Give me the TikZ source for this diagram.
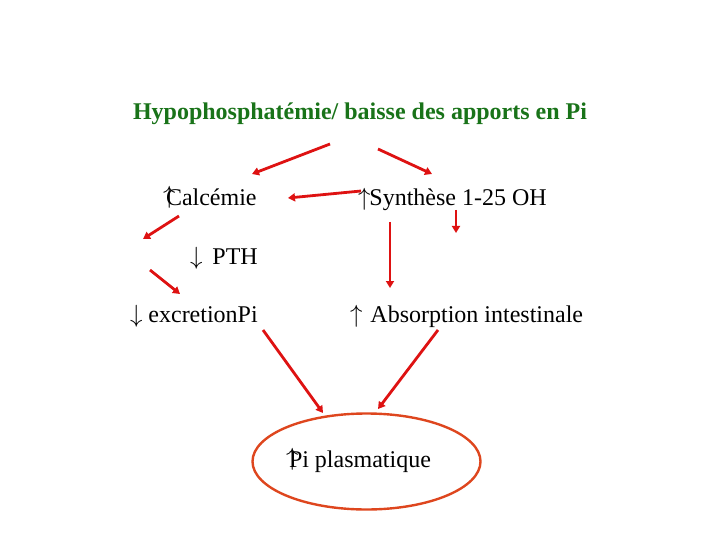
\documentclass[tikz,border=0pt]{standalone}
\usepackage{fontspec}
\setmainfont{Liberation Serif}
\usetikzlibrary{
  arrows.meta,
  shapes.geometric
}
\definecolor{titlegreen}{RGB}{25,115,25}
\definecolor{arrowred}{RGB}{222,18,18}
\definecolor{ringred}{RGB}{222,70,30}
\newcommand{\up}{$\uparrow$}
\newcommand{\down}{$\downarrow$}
\tikzset{
  txt/.style = {anchor=base west, inner sep=0pt, outer sep=0pt,
      font=\fontsize{24}{28}\selectfont},
  ttl/.style = {txt, font=\fontsize{24}{28}\selectfont\bfseries,
      text=titlegreen},
  link/.style = {arrowred, line width=2.8pt,
      -{Triangle[length=7pt, width=8pt]}},
  ring/.style = {ellipse, draw=ringred, line width=2.4pt,
      minimum width=#1, inner sep=0pt},
  ring/.default = 228pt, % width of the ellipse
}

\begin{document}
\begin{tikzpicture}[x=1pt, y=-1pt]
  \useasboundingbox (0,0) rectangle (720,540);

  \node[ttl] (hypo) at (133,120) {Hypophosphatémie/ baisse des apports en Pi};
  \node[txt] (calc) at (163,206) {\rlap{\raisebox{2pt}{\up}}\hspace{3pt}Calcémie};
  \node[txt] (synth) at (358,206) {\up\hspace{-1pt}Synthèse 1-25 OH};
  \node[txt] (pth) at (190,264) {\down\hspace{10pt}PTH};
  \node[txt] (excr) at (130,322) {\down\hspace{6pt}excretionPi};
  \node[txt] (abs) at (350,322) {\up\hspace{8pt}Absorption intestinale};
  \node[ring, minimum height=96pt] (pi) at (366.5,461.5) {};
  \node[txt] (pitxt) at (286,467) {\rlap{\raisebox{2pt}{\up}}\hspace{3pt}Pi plasmatique};

  \coordinate (a1s) at (330,144); \coordinate (a1e) at (252,174);
  \coordinate (a2s) at (378,149); \coordinate (a2e) at (432,174);
  \coordinate (a3s) at (361,191); \coordinate (a3e) at (288,198);
  \coordinate (a4s) at (456,210); \coordinate (a4e) at (456,233);
  \coordinate (a5s) at (390,222); \coordinate (a5e) at (390,288);
  \coordinate (a6s) at (179,216); \coordinate (a6e) at (143,239);
  \coordinate (a7s) at (150,270); \coordinate (a7e) at (180,294);
  \coordinate (a8s) at (263,330); \coordinate (a8e) at (323,413);
  \coordinate (a9s) at (438,330); \coordinate (a9e) at (378,409);

  \draw[link] (a1s) -- (a1e);
  \draw[link] (a2s) -- (a2e);
  \draw[link] (a3s) -- (a3e);
  \draw[link] (a4s) -- (a4e);
  \draw[link] (a5s) -- (a5e);
  \draw[link] (a6s) -- (a6e);
  \draw[link] (a7s) -- (a7e);
  \draw[link] (a8s) -- (a8e);
  \draw[link] (a9s) -- (a9e);
\end{tikzpicture}
\end{document}
